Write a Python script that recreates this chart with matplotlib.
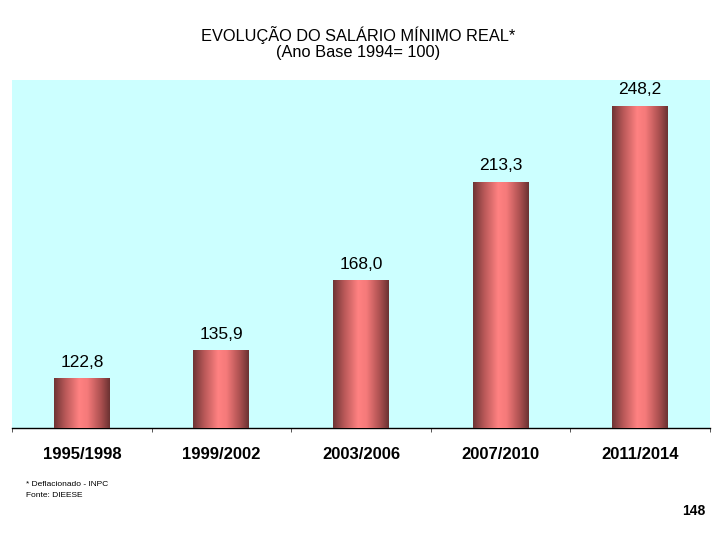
import numpy as np
import matplotlib
matplotlib.use("Agg")
import matplotlib.pyplot as plt
from matplotlib.colors import LinearSegmentedColormap

periodos = ["1995/1998", "1999/2002", "2003/2006", "2007/2010", "2011/2014"]
valores = [122.8, 135.9, 168.0, 213.3, 248.2]
rotulos = ["122,8", "135,9", "168,0", "213,3", "248,2"]

plt.rcParams['font.family'] = ['Liberation Sans', 'DejaVu Sans']

fig = plt.figure(figsize=(7.2, 5.4), dpi=100)
ax = fig.add_axes([0.0167, 0.2074, 0.9694, 0.6444])
ax.set_facecolor("#CCFFFF")

base = 100
x = np.arange(len(periodos))
largura = 0.4
barras = ax.bar(x, np.array(valores) - base, bottom=base, width=largura,
                color="#E87070", linewidth=0, zorder=2)

# degrade tipo cilindro
cmap = LinearSegmentedColormap.from_list(
    "cil", [(0.0, "#6E3434"), (0.2, "#B85858"), (0.45, "#FF8282"),
            (0.6, "#F57A7A"), (0.85, "#A84E4E"), (1.0, "#6A3232")])
grad = np.linspace(0, 1, 256).reshape(1, -1)
for b in barras:
    x0, y0 = b.get_x(), b.get_y()
    w, h = b.get_width(), b.get_height()
    im = ax.imshow(grad, cmap=cmap, aspect="auto", extent=[x0, x0 + w, y0, y0 + h],
                   zorder=3)
    im.set_clip_path(b)

for xi, v, r in zip(x, valores, rotulos):
    ax.text(xi, v + 3.8, r, ha="center", va="bottom", fontsize=12.5, zorder=4)

ax.set_xlim(-0.5, len(periodos) - 0.5)
ax.set_ylim(base, 260)
ax.set_yticks([])
for s in ["top", "right", "left"]:
    ax.spines[s].set_visible(False)
ax.spines["bottom"].set_linewidth(1.0)
ax.set_xticks(np.arange(-0.5, len(periodos), 1.0))
ax.set_xticklabels([])
ax.tick_params(axis="x", direction="out", length=3, width=0.7, color="#555555")
for xi, p in zip(x, periodos):
    ax.text(xi, -0.075, p, transform=ax.get_xaxis_transform(), ha="center",
            va="center", fontsize=12, fontweight="bold")

fig.text(0.497, 0.935, "EVOLUÇÃO DO SALÁRIO MÍNIMO REAL*", ha="center", va="center", fontsize=11.8)
fig.text(0.497, 0.902, "(Ano Base 1994= 100)", ha="center", va="center", fontsize=11.8)

fig.text(0.036, 0.102, "* Deflacionado - INPC", ha="left", va="center", fontsize=6)
fig.text(0.036, 0.082, "Fonte: DIEESE", ha="left", va="center", fontsize=6)
fig.text(0.979, 0.054, "148", ha="right", va="center", fontsize=10, fontweight="bold")

fig.savefig("out.png", dpi=100, facecolor="white")
